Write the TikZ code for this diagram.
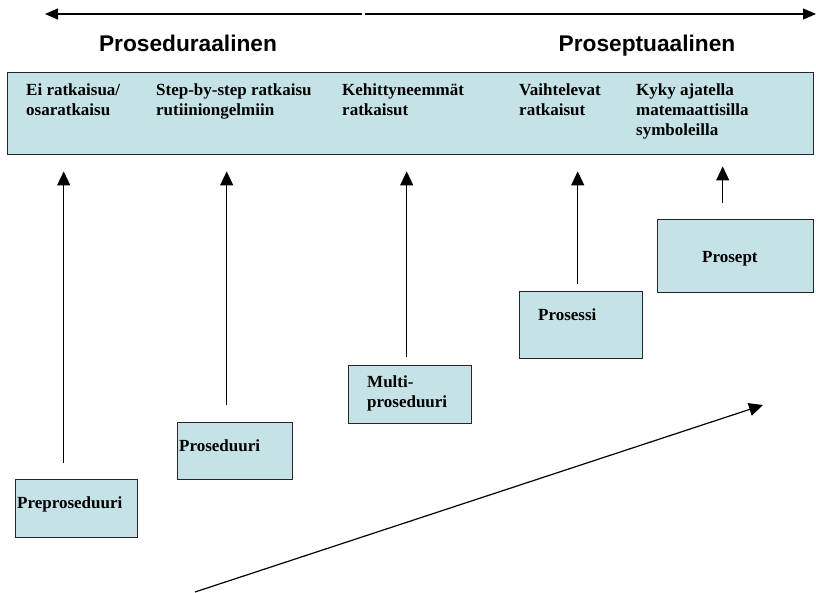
\documentclass[tikz,border=0pt]{standalone}
\usepackage{fontspec}
\setmainfont{Liberation Serif}
\newfontfamily\hfont{Liberation Sans}
\usetikzlibrary{arrows.meta,calc}
\definecolor{boxfill}{HTML}{C5E3E6}
\tikzset{
  box/.style={draw=black!85,line width=1.4pt,fill=boxfill,inner sep=0pt,anchor=north west},
  txt/.style={font=\fontsize{17}{20}\selectfont\bfseries,align=left,inner sep=0pt,anchor=base west},
  head/.style={font=\hfont\fontsize{22.7}{26}\selectfont\bfseries,inner sep=0pt,anchor=base},
  arr/.style={line width=1.2pt,-{Triangle[length=14pt,width=13pt]}},
  harr/.style={line width=1.3pt,-{Triangle[length=13pt,width=11pt]}}
}
\begin{document}
\begin{tikzpicture}[x=1pt,y=-1pt]
\useasboundingbox (0,0) rectangle (816,593);
% top axis
\coordinate (mL) at (362,14);
\coordinate (mR) at (365,14);
\coordinate (eL) at (45,14);
\coordinate (eR) at (816,14);
\draw[harr] (mL) -- (eL);
\draw[harr] (mR) -- (eR);
\node[head] (h1) at (188,52) {Proseduraalinen};
\node[head] (h2) at (647,52) {Proseptuaalinen};
% big box
\node[box,minimum width=806pt,minimum height=82pt] (big) at (7,72) {};
\node[txt] (t1) at (26,116) {Ei ratkaisua/\\osaratkaisu};
\node[txt] (t2) at (156,116) {Step-by-step ratkaisu\\rutiiniongelmiin};
\node[txt] (t3) at (342,116) {Kehittyneemmät\\ratkaisut};
\node[txt] (t4) at (519,116) {Vaihtelevat\\ratkaisut};
\node[txt] (t5) at (636,136) {Kyky ajatella\\matemaattisilla\\symboleilla};
% small boxes
\node[box,minimum width=122pt,minimum height=58pt] (pre) at (15,479) {};
\node[txt] (pret) at (17,508) {Preproseduuri};
\node[box,minimum width=115pt,minimum height=57pt] (pro) at (177,422) {};
\node[txt] (prot) at (179,451) {Proseduuri};
\node[box,minimum width=123pt,minimum height=58pt] (mul) at (348,365) {};
\node[txt] (mult) at (367,407) {Multi-\\proseduuri};
\node[box,minimum width=123pt,minimum height=67pt] (pss) at (519,291) {};
\node[txt] (psst) at (538,321) {Prosessi};
\node[box,minimum width=156pt,minimum height=73pt] (pst) at (657,219) {};
\node[txt] (pstt) at (702,263) {Prosept};
% vertical arrows
\draw[arr] ($(pre.north)+(-13,-16)$) -- ($(pre.north |- big.south)+(-13,16)$);
\draw[arr] ($(pro.north)+(-8.5,-17)$) -- ($(pro.north |- big.south)+(-8.5,16)$);
\draw[arr] ($(mul.north)+(-3.5,-8)$) -- ($(mul.north |- big.south)+(-3.5,16)$);
\draw[arr] ($(pss.north)+(-3.5,-7)$) -- ($(pss.north |- big.south)+(-3.5,16)$);
\draw[arr] ($(pst.north)+(-13,-16)$) -- ($(pst.north |- big.south)+(-13,11)$);
% diagonal arrow
\coordinate (d0) at (195,592);
\coordinate (d1) at (763,405);
\draw[arr] (d0) -- (d1);
\end{tikzpicture}
\end{document}
